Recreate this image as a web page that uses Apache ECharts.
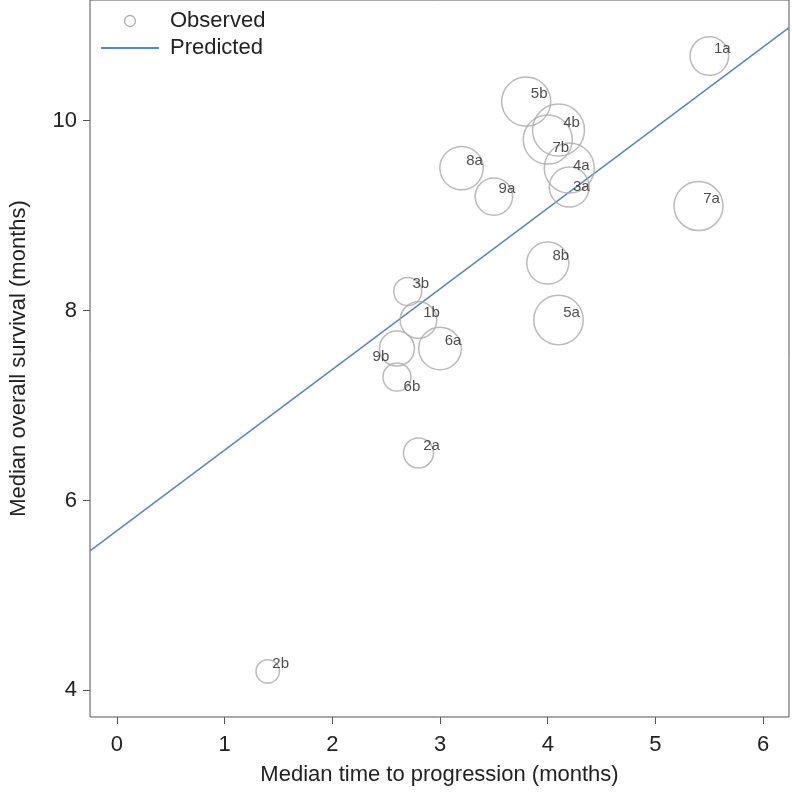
<!DOCTYPE html>
<html>
<head>
<meta charset="utf-8">
<script src="https://cdn.jsdelivr.net/npm/echarts@6/dist/echarts.min.js"></script>
<style>
html,body{margin:0;padding:0;background:#fff;}
#chart{width:792px;height:794px;}
</style>
</head>
<body>
<div id="chart"></div>
<script>
// ---- data ----
const studyLabels = ['1a','1b','2a','2b','3a','3b','4a','4b','5a','5b','6a','6b','7a','7b','8a','8b','9a','9b'];
const medianTTP   = [5.5, 2.8, 2.8, 1.4, 4.2, 2.7, 4.2, 4.1, 4.1, 3.8, 3.0, 2.6, 5.4, 4.0, 3.2, 4.0, 3.5, 2.6];
const medianOS    = [10.68, 7.9, 6.5, 4.2, 9.3, 8.2, 9.5, 9.9, 7.9, 10.2, 7.6, 7.3, 9.1, 9.8, 9.5, 8.5, 9.2, 7.6];
const studyWeight = [19.3, 18.3, 15, 11.7, 20, 14, 25, 26, 24.7, 24.5, 21.3, 14, 24.5, 24.5, 21.7, 21, 18.7, 17.5];
const predictedX  = [-0.25, 6.24];
const predictedY  = [5.47, 10.98];
const xTicks = [0, 1, 2, 3, 4, 5, 6];
const yTicks = [4, 6, 8, 10];

// ---- styles ----
const FONT = 'Liberation Sans, Arial, Helvetica, sans-serif';
const defaultLabelOffset = [13, -7.5];
const labelOffsets = { '7b': [13, 8], '6b': [15, 10], '9b': [-16, 8], '4a': [12, -2], '3a': [12, 0] };

const chart = echarts.init(document.getElementById('chart'), null, { renderer: 'canvas' });

const scatterData = medianTTP.map((x, i) => ({
  value: [x, medianOS[i]],
  name: studyLabels[i],
  label: { offset: labelOffsets[studyLabels[i]] || defaultLabelOffset }
}));
const lineData = predictedX.map((x, i) => [x, predictedY[i]]);

chart.setOption({
  animation: false,
  backgroundColor: '#fff',
  textStyle: { fontFamily: FONT },
  grid: {
    show: true, left: 89, right: 3, top: 0, bottom: 77,
    borderColor: '#555', borderWidth: 1, backgroundColor: 'transparent'
  },
  legend: {
    left: 95, top: 5, orient: 'vertical',
    itemWidth: 58, itemHeight: 11, itemGap: 5,
    textStyle: { fontSize: 22, color: '#222', fontFamily: FONT, padding: [0, 0, 0, 6], lineHeight: 22 },
    data: [
      { name: 'Observed', icon: 'circle', itemStyle: { color: 'rgba(0,0,0,0)', borderColor: '#999', borderWidth: 1.3 } },
      { name: 'Predicted', itemStyle: { opacity: 0 } }
    ]
  },
  xAxis: {
    type: 'value', min: -0.25, max: 6.24,
    name: 'Median time to progression (months)',
    nameLocation: 'middle', nameGap: 47,
    nameTextStyle: { fontSize: 22, color: '#222', fontFamily: FONT },
    axisLine: { show: false, onZero: false },
    splitLine: { show: false },
    axisTick: { show: true, customValues: xTicks, length: 7, lineStyle: { color: '#555' } },
    axisLabel: { customValues: xTicks, margin: 17, fontSize: 22, color: '#222', fontFamily: FONT }
  },
  yAxis: {
    type: 'value', min: 3.72, max: 11.27,
    name: 'Median overall survival (months)',
    nameLocation: 'middle', nameGap: 60,
    nameTextStyle: { fontSize: 22, color: '#222', fontFamily: FONT },
    axisLine: { show: false, onZero: false },
    splitLine: { show: false },
    axisTick: { show: true, customValues: yTicks, length: 7, lineStyle: { color: '#555' } },
    axisLabel: { customValues: yTicks, margin: 13, fontSize: 22, color: '#222', fontFamily: FONT }
  },
  series: [
    {
      name: 'Observed', type: 'scatter',
      symbol: 'circle',
      symbolSize: (val, params) => 2 * studyWeight[params.dataIndex],
      itemStyle: { color: 'rgba(0,0,0,0)', borderColor: '#aaa', borderWidth: 1.5 },
      label: {
        show: true, position: 'inside', formatter: '{b}',
        fontSize: 15, color: '#222', fontFamily: FONT
      },
      emphasis: { disabled: true },
      data: scatterData,
      z: 3
    },
    {
      name: 'Predicted', type: 'line',
      data: lineData, showSymbol: false, symbol: 'none',
      lineStyle: { color: '#5b85bd', width: 1.5 },
      itemStyle: { color: '#5b85bd' },
      emphasis: { disabled: true },
      z: 2
    }
  ]
});
</script>
</body>
</html>
